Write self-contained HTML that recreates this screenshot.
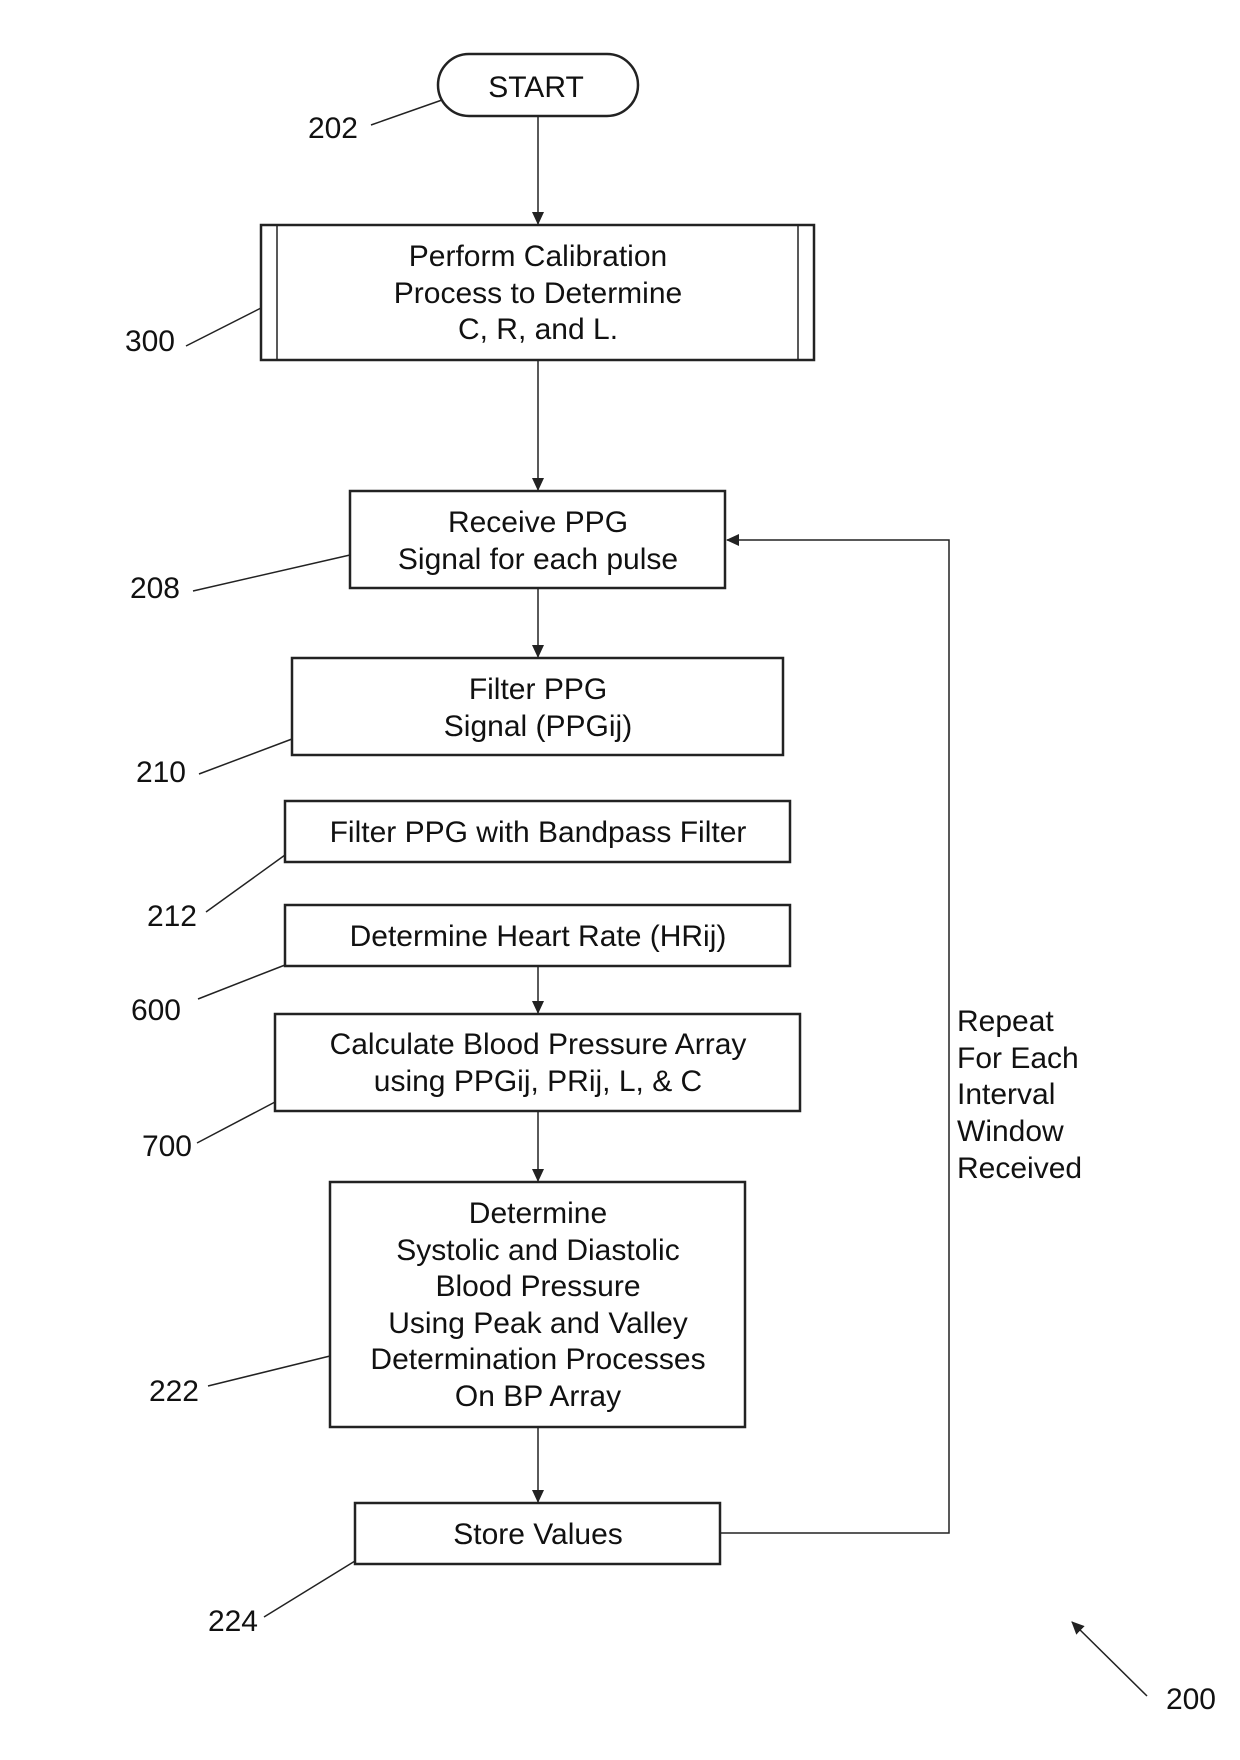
<!DOCTYPE html>
<html><head><style>
body{margin:0;background:#fff}
svg text{font-family:"Liberation Sans",Arial,sans-serif;font-size:30px;fill:#111}
</style></head><body>
<svg width="1240" height="1755" viewBox="0 0 1240 1755" xmlns="http://www.w3.org/2000/svg">
<defs><marker id="a" markerWidth="14" markerHeight="14" refX="12" refY="6" orient="auto" markerUnits="userSpaceOnUse"><path d="M0,0 L13,6 L0,12 Z" fill="#222"/></marker></defs>
<g fill="none" stroke="#222" stroke-width="2.5">
<rect x="438" y="54" width="200" height="62" rx="31"/>
<rect x="261" y="225" width="553" height="135"/>
<line x1="277" y1="225" x2="277" y2="360" stroke-width="1.5"/>
<line x1="798" y1="225" x2="798" y2="360" stroke-width="1.5"/>
<rect x="350" y="491" width="375" height="97"/>
<rect x="292" y="658" width="491" height="97"/>
<rect x="285" y="801" width="505" height="61"/>
<rect x="285" y="905" width="505" height="61"/>
<rect x="275" y="1014" width="525" height="97"/>
<rect x="330" y="1182" width="415" height="245"/>
<rect x="355" y="1503" width="365" height="61"/>
</g>
<g stroke="#222" stroke-width="1.5" fill="none">
<line x1="538" y1="116" x2="538" y2="224" marker-end="url(#a)"/>
<line x1="538" y1="360" x2="538" y2="490" marker-end="url(#a)"/>
<line x1="538" y1="588" x2="538" y2="657" marker-end="url(#a)"/>
<line x1="538" y1="966" x2="538" y2="1013" marker-end="url(#a)"/>
<line x1="538" y1="1111" x2="538" y2="1181" marker-end="url(#a)"/>
<line x1="538" y1="1427" x2="538" y2="1502" marker-end="url(#a)"/>
<polyline points="720,1533 949,1533 949,540 727,540" marker-end="url(#a)"/>
<line x1="371" y1="125" x2="442" y2="100"/>
<line x1="186" y1="346" x2="261" y2="308"/>
<line x1="193" y1="591" x2="350" y2="555"/>
<line x1="199" y1="774" x2="292" y2="739"/>
<line x1="206" y1="912" x2="285" y2="855"/>
<line x1="198" y1="999" x2="285" y2="965"/>
<line x1="197" y1="1143" x2="275" y2="1102"/>
<line x1="208" y1="1386" x2="330" y2="1356"/>
<line x1="264" y1="1617" x2="355" y2="1561"/>
<line x1="1147" y1="1696" x2="1072" y2="1622" marker-end="url(#a)"/>
</g>
<g text-anchor="middle">
<text x="536" y="97">START</text>
<text x="538" y="266">Perform Calibration</text>
<text x="538" y="303">Process to Determine</text>
<text x="538" y="339">C, R, and L.</text>
<text x="538" y="532">Receive PPG</text>
<text x="538" y="569">Signal for each pulse</text>
<text x="538" y="699">Filter PPG</text>
<text x="538" y="736">Signal (PPGij)</text>
<text x="538" y="842">Filter PPG with Bandpass Filter</text>
<text x="538" y="946">Determine Heart Rate (HRij)</text>
<text x="538" y="1054">Calculate Blood Pressure Array</text>
<text x="538" y="1091">using PPGij, PRij, L, &amp; C</text>
<text x="538" y="1223">Determine</text>
<text x="538" y="1260">Systolic and Diastolic</text>
<text x="538" y="1296">Blood Pressure</text>
<text x="538" y="1333">Using Peak and Valley</text>
<text x="538" y="1369">Determination Processes</text>
<text x="538" y="1406">On BP Array</text>
<text x="538" y="1544">Store Values</text>
</g>
<g>
<text x="957" y="1031">Repeat</text>
<text x="957" y="1068">For Each</text>
<text x="957" y="1104">Interval</text>
<text x="957" y="1141">Window</text>
<text x="957" y="1178">Received</text>
</g>
<g text-anchor="end">
<text x="358" y="138">202</text>
<text x="175" y="351">300</text>
<text x="180" y="598">208</text>
<text x="186" y="782">210</text>
<text x="197" y="926">212</text>
<text x="181" y="1020">600</text>
<text x="192" y="1156">700</text>
<text x="199" y="1401">222</text>
<text x="258" y="1631">224</text>
<text x="1216" y="1709">200</text>
</g>
</svg>
</body></html>
